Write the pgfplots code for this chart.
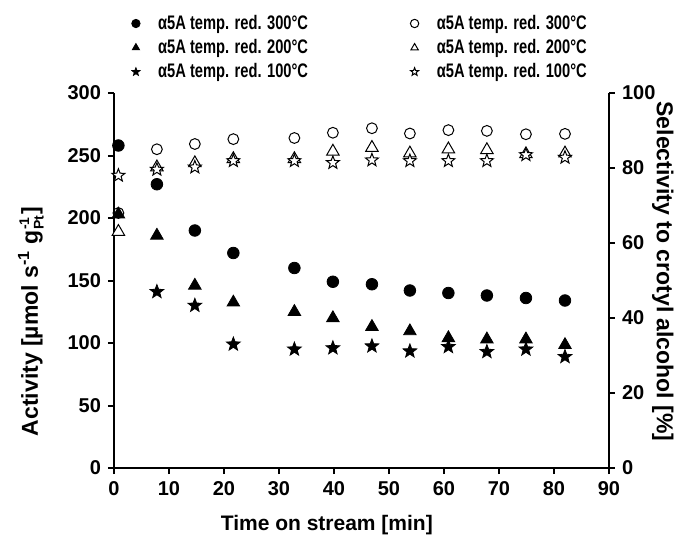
\documentclass[border=0pt]{standalone}
\usepackage{pgfplots}
\pgfplotsset{compat=1.18}
\usepackage{fontspec}
\setmainfont{Liberation Sans}
\newfontfamily\legfont{Liberation Sans}[FakeStretch=0.75]
\pgfdeclareplotmark{pstar}{%
  \pgfpathmoveto{\pgfpointpolar{90}{\pgfplotmarksize}}%
  \pgfpathlineto{\pgfpointpolar{126}{0.42\pgfplotmarksize}}%
  \pgfpathlineto{\pgfpointpolar{162}{\pgfplotmarksize}}%
  \pgfpathlineto{\pgfpointpolar{198}{0.42\pgfplotmarksize}}%
  \pgfpathlineto{\pgfpointpolar{234}{\pgfplotmarksize}}%
  \pgfpathlineto{\pgfpointpolar{270}{0.42\pgfplotmarksize}}%
  \pgfpathlineto{\pgfpointpolar{306}{\pgfplotmarksize}}%
  \pgfpathlineto{\pgfpointpolar{342}{0.42\pgfplotmarksize}}%
  \pgfpathlineto{\pgfpointpolar{18}{\pgfplotmarksize}}%
  \pgfpathlineto{\pgfpointpolar{54}{0.42\pgfplotmarksize}}%
  \pgfpathclose
  \pgfusepathqfillstroke
}
\pgfplotstableread{
t    a300  a200
0.8  258   203
7.8  227   186
14.7 190   146
21.7 172   132.5
32.8 160   125
39.8 149   120
46.9 147   113
53.8 142   109.5
60.8 140   104
67.8 138   103
74.9 136   103
82.0 134   98.5
}\acttab
\pgfplotstableread{
t    a100
7.8  141
14.7 130
21.7 99
32.8 95
39.8 96
46.9 97.5
53.8 93.5
60.8 97
67.8 93
74.9 95
82.0 89
}\actstar
\pgfplotstableread{
t    s300  s200  s100
0.8  68    63    78
7.8  85    80.2  79.6
14.7 86.4  81.3  80.2
21.7 87.7  82.4  81.9
32.8 88    82.4  81.9
39.8 89.4  84.4  81.4
46.9 90.6  85.4  82.1
53.8 89.2  83.9  81.9
60.8 90.1  85    81.9
67.8 89.9  84.8  81.9
74.9 89.0  83.7  83.5
82.0 89.1  83.9  82.8
}\seltab
\begin{document}
\begin{tikzpicture}
\useasboundingbox (-57pt,-34.5pt) rectangle (281.5pt,234pt);
\pgfplotsset{
 common/.style={
  width=247.5pt, height=187.5pt, scale only axis,
  xmin=0, xmax=90,
  clip=false,
  tick align=outside,
  major tick length=3pt,
  tick style={line width=1pt, black},
  axis line style={line width=1.1pt},
  tick label style={font=\bfseries\fontsize{10}{11}\selectfont},
  /pgf/number format/assume math mode=true,
  label style={font=\bfseries\fontsize{11.5}{13}\selectfont},
  legend style={draw=none, fill=none, font=\legfont\bfseries\fontsize{9.8}{10.5}\selectfont, row sep=-0.5pt, inner sep=0pt,
    /tikz/every odd column/.append style={column sep=7pt}},
  legend image post style={mark size=2.1pt},
  legend cell align=left,
 }
}
\begin{axis}[common,
  axis y line*=left, axis x line*=bottom,
  ymin=0, ymax=300, ytick={0,50,...,300}, xtick={0,10,...,90},
  xlabel={Time on stream [min]},
  xlabel style={at={(ticklabel cs:0.43,3pt)}, anchor=north, font=\bfseries\fontsize{10.5}{12}\selectfont},
  ylabel={Activity [µmol s\textsuperscript{-1} g$_{\mbox{\bfseries\scriptsize Pt}}^{\mbox{\bfseries\scriptsize -1}}$]},
  ylabel style={at={(ticklabel cs:0.39,5pt)}, anchor=south},
  legend style={at={(rel axis cs:0.035,1.22)}, anchor=north west},
]
\addplot[only marks, mark=*, mark size=2.9pt, black] table[x=t,y=a300] {\acttab};
\addlegendentry{α5A temp. red. 300°C}
\addplot[only marks, mark=triangle*, mark size=3.6pt, black] table[x=t,y=a200] {\acttab};
\addlegendentry{α5A temp. red. 200°C}
\addplot[only marks, mark=pstar, mark size=3.6pt, black, fill=black] table[x=t,y=a100] {\actstar};
\addlegendentry{α5A temp. red. 100°C}
\end{axis}
\begin{axis}[common,
  axis y line*=right, axis x line=none,
  ymin=0, ymax=100, ytick={0,20,...,100},
  ylabel={Selectivity to crotyl alcohol [\%]},
  ylabel style={rotate=180, at={(ticklabel cs:0.524,-8.5pt)}, anchor=south},
  legend style={at={(rel axis cs:0.598,1.22)}, anchor=north west},
]
\addplot[only marks, mark=o, mark size=2.7pt, black, mark options={fill=white, line width=0.5pt}] table[x=t,y=s300] {\seltab};
\addlegendentry{α5A temp. red. 300°C}
\addplot[only marks, mark=triangle*, mark size=3.6pt, black, mark options={fill=white, line width=0.5pt}] table[x=t,y=s200] {\seltab};
\addlegendentry{α5A temp. red. 200°C}
\addplot[only marks, mark=pstar, mark size=3.4pt, black, mark options={fill=white, line width=0.5pt}] table[x=t,y=s100] {\seltab};
\addlegendentry{α5A temp. red. 100°C}
\end{axis}
\end{tikzpicture}
\end{document}
